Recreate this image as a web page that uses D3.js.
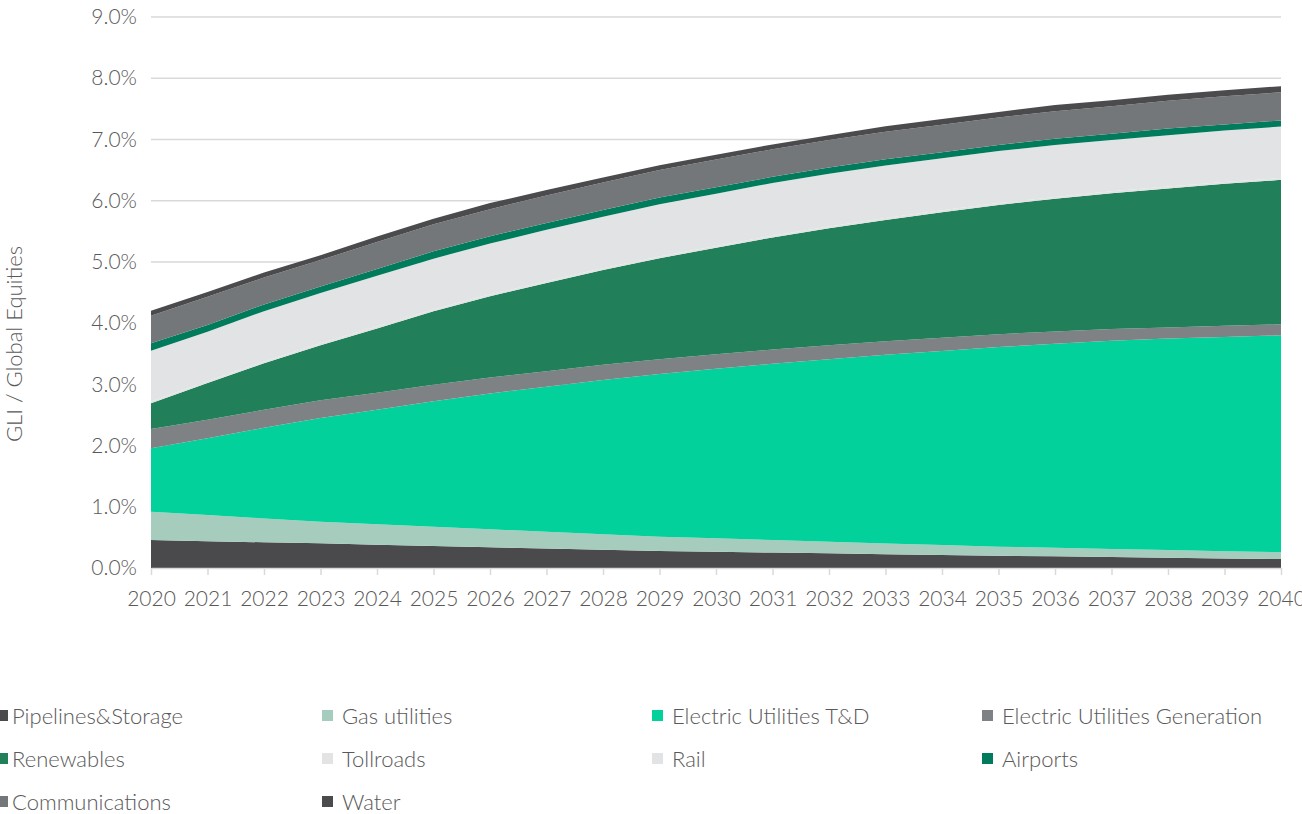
<!DOCTYPE html>
<html>
<head>
<meta charset="utf-8">
<script src="https://cdn.jsdelivr.net/npm/d3@7"></script>
<style>
  html, body { margin: 0; padding: 0; background: #ffffff; }
  svg { display: block; }
  text { font-family: Lato, "Open Sans", sans-serif; font-weight: 300; fill: #595959; }
</style>
</head>
<body>
<svg id="chart" width="1302" height="814"></svg>
<script>
// Years on the horizontal axis
const years = [2020, 2021, 2022, 2023, 2024, 2025, 2026, 2027, 2028, 2029, 2030,
               2031, 2032, 2033, 2034, 2035, 2036, 2037, 2038, 2039, 2040];

// Share of global equities (%) by sector, stacked bottom to top
const pipelinesStorage = [0.457, 0.436, 0.420, 0.403, 0.380, 0.360, 0.338, 0.318, 0.298, 0.278, 0.265,
                          0.252, 0.240, 0.226, 0.213, 0.200, 0.190, 0.179, 0.168, 0.157, 0.147];
const gasUtilities     = [0.463, 0.430, 0.390, 0.354, 0.333, 0.313, 0.294, 0.274, 0.254, 0.234, 0.219,
                          0.204, 0.190, 0.176, 0.162, 0.148, 0.141, 0.133, 0.126, 0.118, 0.110];
const electricTD       = [1.035, 1.254, 1.480, 1.693, 1.870, 2.050, 2.218, 2.370, 2.520, 2.658, 2.770,
                          2.880, 2.980, 3.080, 3.170, 3.262, 3.330, 3.400, 3.456, 3.500, 3.543];
const electricGen      = [0.315, 0.300, 0.295, 0.290, 0.280, 0.270, 0.260, 0.253, 0.246, 0.240, 0.237,
                          0.233, 0.230, 0.223, 0.217, 0.210, 0.200, 0.190, 0.180, 0.180, 0.180];
const renewables       = [0.420, 0.600, 0.760, 0.900, 1.050, 1.200, 1.330, 1.440, 1.550, 1.650, 1.740,
                          1.830, 1.910, 1.980, 2.050, 2.110, 2.170, 2.220, 2.270, 2.320, 2.360];
const tollroads        = [0.030, 0.030, 0.030, 0.030, 0.030, 0.030, 0.030, 0.030, 0.030, 0.030, 0.030,
                          0.030, 0.030, 0.030, 0.030, 0.030, 0.030, 0.030, 0.030, 0.030, 0.030];
const rail             = [0.830, 0.810, 0.820, 0.820, 0.830, 0.830, 0.830, 0.840, 0.840, 0.850, 0.850,
                          0.860, 0.860, 0.860, 0.850, 0.850, 0.850, 0.840, 0.840, 0.840, 0.840];
const airports         = [0.120, 0.110, 0.110, 0.110, 0.110, 0.120, 0.120, 0.110, 0.110, 0.110, 0.110,
                          0.100, 0.100, 0.100, 0.100, 0.100, 0.100, 0.100, 0.110, 0.100, 0.100];
const communications   = [0.450, 0.460, 0.440, 0.430, 0.440, 0.440, 0.440, 0.450, 0.450, 0.450, 0.450,
                          0.450, 0.450, 0.450, 0.450, 0.450, 0.450, 0.450, 0.450, 0.460, 0.460];
const water            = [0.080, 0.080, 0.080, 0.080, 0.090, 0.090, 0.100, 0.090, 0.080, 0.080, 0.080,
                          0.080, 0.080, 0.090, 0.090, 0.090, 0.100, 0.100, 0.100, 0.100, 0.100];

const seriesNames = ["Pipelines&Storage", "Gas utilities", "Electric Utilities T&D",
                     "Electric Utilities Generation", "Renewables", "Tollroads", "Rail",
                     "Airports", "Communications", "Water"];
const seriesValues = [pipelinesStorage, gasUtilities, electricTD, electricGen, renewables,
                      tollroads, rail, airports, communications, water];
const seriesColors = ["#4a4a4c", "#a6ccbd", "#02d19b", "#7f8285", "#217f5a",
                      "#e2e3e5", "#e2e3e5", "#007b5b", "#74777a", "#4b4b4d"];

const yTicks = [0, 1, 2, 3, 4, 5, 6, 7, 8, 9];
const yTitle = "GLI / Global Equities";

// Table for the stack layout
const table = years.map((yr, i) => {
  const row = { year: yr };
  seriesNames.forEach((name, k) => { row[name] = seriesValues[k][i]; });
  return row;
});

const svg = d3.select("#chart");
const plot = { left: 151, right: 1281, top: 17, bottom: 568 };
const font = "Lato, 'Open Sans', sans-serif";

const x = d3.scaleLinear().domain([years[0], years[years.length - 1]]).range([plot.left, plot.right]);
const y = d3.scaleLinear().domain([0, 9]).range([plot.bottom, plot.top]);

// Horizontal gridlines
svg.append("g")
  .selectAll("line")
  .data(yTicks.filter(t => t > 0))
  .join("line")
  .attr("x1", plot.left).attr("x2", plot.right)
  .attr("y1", d => y(d)).attr("y2", d => y(d))
  .attr("stroke", "#d9d9d9").attr("stroke-width", 1.5);

// Stacked areas
const stack = d3.stack().keys(seriesNames);
const layers = stack(table);
const area = d3.area()
  .x(d => x(d.data.year))
  .y0(d => y(d[0]))
  .y1(d => y(d[1]))
  .curve(d3.curveLinear);

svg.append("g")
  .selectAll("path")
  .data(layers)
  .join("path")
  .attr("d", area)
  .attr("fill", (d, i) => seriesColors[i]);

// Y axis labels
const yAxis = d3.axisLeft(y).tickValues(yTicks).tickFormat(d => d3.format(".1f")(d) + "%")
  .tickSize(0).tickPadding(14);
const gy = svg.append("g").attr("transform", `translate(${plot.left},0)`).call(yAxis);
gy.select(".domain").remove();
gy.selectAll("text").attr("font-size", 21).attr("fill", "#595959")
  .style("font-family", font).style("font-weight", 300);

// X axis with downward ticks
const xAxis = d3.axisBottom(x).tickValues(years).tickFormat(d3.format("d"))
  .tickSize(7).tickSizeOuter(0).tickPadding(16);
const gx = svg.append("g").attr("transform", `translate(0,${plot.bottom})`).call(xAxis);
gx.select(".domain").attr("stroke", "#d9d9d9").attr("stroke-width", 1.5);
gx.selectAll(".tick line").attr("stroke", "#d9d9d9").attr("stroke-width", 1.5);
gx.selectAll("text").attr("font-size", 21).attr("fill", "#595959")
  .style("font-family", font).style("font-weight", 300);

// Y axis title
svg.append("text")
  .attr("transform", `translate(22,344) rotate(-90)`)
  .attr("text-anchor", "middle")
  .attr("font-size", 22)
  .text(yTitle);

// Legend: four columns, three rows
const legendCols = [0, 330, 660, 990];
const legendRows = [716, 759, 802];
const legend = svg.append("g")
  .selectAll("g")
  .data(seriesNames)
  .join("g")
  .attr("transform", (d, i) => `translate(${legendCols[i % 4]},${legendRows[Math.floor(i / 4)]})`);
legend.append("rect")
  .attr("x", (d, i) => i % 4 === 0 ? -3 : -8)
  .attr("y", -6).attr("width", 11).attr("height", 11)
  .attr("fill", (d, i) => seriesColors[i]);
legend.append("text")
  .attr("x", 12)
  .attr("dy", "0.35em")
  .attr("font-size", 22)
  .text(d => d);
</script>
</body>
</html>
